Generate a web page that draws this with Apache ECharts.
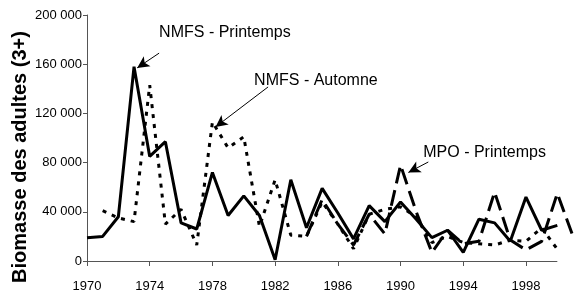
<!DOCTYPE html>
<html>
<head>
<meta charset="utf-8">
<script src="https://cdn.jsdelivr.net/npm/echarts@6/dist/echarts.min.js"></script>
<style>
  html, body { margin: 0; padding: 0; background: #fff; }
  #chart { width: 575px; height: 294px; }
</style>
</head>
<body>
<div id="chart"></div>
<script>
  // années et biomasses
  const yearTicks = [1970, 1974, 1978, 1982, 1986, 1990, 1994, 1998]
  const axisStart = 1970
  const axisEnd = 2000

  const nmfsPrintempsStart = 1970
  const nmfsPrintemps = [19000, 20000, 36000, 158000, 85000, 97000, 31000, 26000, 72000, 37000,
    53000, 37000, 1000, 66000, 27000, 59000, 39000, 18000, 45000, 32000,
    48000, 34000, 19000, 25000, 7000, 34000, 31000, 16000, 52000, 25000, 29000]

  const nmfsAutomneStart = 1971
  const nmfsAutomne = [41000, 35000, 32000, 143000, 30000, 42000, 13000, 113000, 92000,
    101000, 28000, 66000, 21000, 20000, 48000, 30000, 10000, 38000, 42000,
    44000, 36000, 15000, 20000, 15000, 14000, 13000, 17000, 16000, 27000, 9500]

  const mpoPrintempsStart = 1984
  const mpoPrintemps = [20000, 50000, 30000, 13000, 38000, 22000, 78000, 40000, 7000, 25000,
    14000, 16000, 56000, 17000, 9000, 16000, 55000, 20000]

  function toPairs(start, values) {
    return values.map((v, i) => [start + i, v])
  }

  function fmtThousands(v) {
    return String(v).replace(/\B(?=(\d{3})+(?!\d))/g, ' ')
  }

  const FONT = 'Liberation Sans, Arial, sans-serif'
  const chart = echarts.init(document.getElementById('chart'))

  const arrowLine = (from, to) => [{ coord: from }, { coord: to }]
  const note = (coord, text) => ({
    coord: coord,
    symbol: 'circle',
    symbolSize: 0,
    label: {
      show: true,
      position: 'right',
      distance: 0,
      formatter: text,
      color: '#000',
      fontSize: 16,
      fontFamily: FONT
    }
  })
  const arrowStyle = {
    silent: true,
    symbol: ['none', 'arrow'],
    symbolSize: [9, 12],
    label: { show: false },
    lineStyle: { color: '#000', width: 1, type: 'solid' },
    emphasis: { disabled: true },
    animation: false
  }

  chart.setOption({
    animation: false,
    grid: { left: 87, right: 2, top: 15, bottom: 33, outerBoundsMode: 'none' },
    graphic: [{
      type: 'text',
      rotation: Math.PI / 2,
      x: 20,
      y: 157,
      style: {
        text: 'Biomasse des adultes (3+)',
        fill: '#000',
        font: 'bold 20px ' + FONT,
        textAlign: 'center',
        textVerticalAlign: 'middle'
      }
    }],
    xAxis: {
      type: 'value',
      min: axisStart,
      max: 2001, // la dernière valeur MPO déborde de l'axe
      splitLine: { show: false },
      axisLine: { show: false },
      axisTick: { show: true, length: 5, inside: false, customValues: yearTicks, lineStyle: { color: '#555' } },
      axisLabel: {
        customValues: yearTicks,
        formatter: v => String(v),
        color: '#000',
        fontSize: 13,
        margin: 19,
        fontFamily: FONT
      }
    },
    yAxis: {
      type: 'value',
      min: 0,
      max: 200000,
      interval: 40000,
      splitLine: { show: false },
      axisLine: { show: true, lineStyle: { color: '#555', width: 1 } },
      axisTick: { show: true, length: 4, lineStyle: { color: '#555' } },
      axisLabel: {
        formatter: v => fmtThousands(v),
        color: '#000',
        fontSize: 13,
        margin: 5,
        fontFamily: FONT
      }
    },
    series: [
      {
        name: 'NMFS - Automne',
        type: 'line',
        data: toPairs(nmfsAutomneStart, nmfsAutomne),
        symbol: 'none',
        lineStyle: { color: '#000', width: 3, type: [4, 6] },
        markLine: Object.assign({ data: [arrowLine([1981.55, 141500], [1978.2, 109000])] }, arrowStyle),
        markPoint: { silent: true, data: [note([1980.66, 147000], 'NMFS - Automne')] }
      },
      {
        name: 'MPO - Printemps',
        type: 'line',
        data: toPairs(mpoPrintempsStart, mpoPrintemps),
        symbol: 'none',
        lineStyle: { color: '#000', width: 3, type: [16, 7] },
        markLine: Object.assign({ data: [arrowLine([1991.77, 80500], [1990.5, 72000])] }, arrowStyle),
        markPoint: { silent: true, data: [note([1991.45, 88500], 'MPO - Printemps')] }
      },
      {
        name: 'NMFS - Printemps',
        type: 'line',
        data: toPairs(nmfsPrintempsStart, nmfsPrintemps),
        symbol: 'none',
        lineStyle: { color: '#000', width: 3, type: 'solid' },
        markLine: Object.assign({
          data: [
            arrowLine([1974.6, 169000], [1973.2, 157000]),
            // ligne de l'axe des x, de 1970 à 2000 seulement
            [{ coord: [axisStart, 0], symbol: 'none', lineStyle: { color: '#555', width: 1 } },
             { coord: [axisEnd, 0], symbol: 'none' }]
          ]
        }, arrowStyle),
        markPoint: { silent: true, data: [note([1974.6, 185500], 'NMFS - Printemps')] }
      }
    ]
  })
</script>
</body>
</html>
